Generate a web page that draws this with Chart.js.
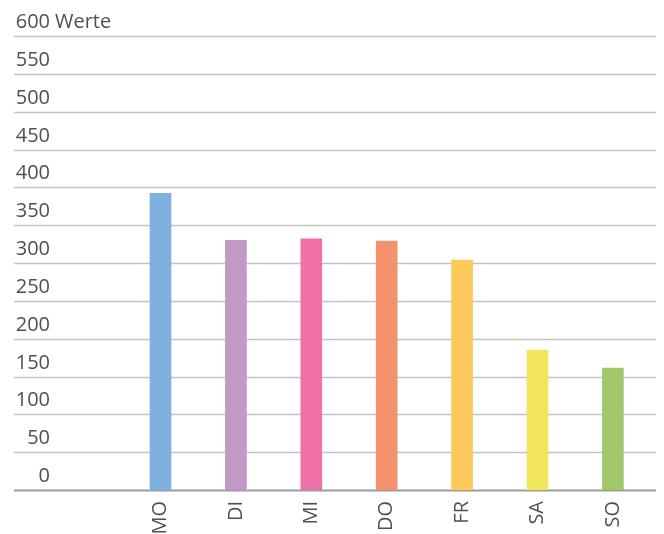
<!DOCTYPE html>
<html>
<head>
<meta charset="utf-8">
<script src="https://cdn.jsdelivr.net/npm/chart.js@4/dist/chart.umd.min.js"></script>
<style>
  html, body { margin: 0; padding: 0; background: #ffffff; }
  #wrap { width: 664px; height: 534px; position: relative; }
</style>
</head>
<body>
<div id="wrap"><canvas id="c" width="664" height="534"></canvas></div>
<script>
// ---- data ----
const categories = ['', 'MO', 'DI', 'MI', 'DO', 'FR', 'SA', 'SO'];
const values = [null, 392, 330, 332, 329, 304, 185, 161];
const barColors = ['#ffffff', '#7eb1e0', '#c09ac5', '#ef72a7', '#f4926e', '#fdc95a', '#f1e55e', '#a2c76a'];
const yTicks = [0, 50, 100, 150, 200, 250, 300, 350, 400, 450, 500, 550, 600];
const yUnit = 'Werte';

const FONT = '"Open Sans", "DejaVu Sans", sans-serif';
const TEXT = '#505050';
const FSIZE = 20;

const gridPlugin = {
  id: 'fullGrid',
  beforeDatasetsDraw(chart) {
    const ctx = chart.ctx;
    const y = chart.scales.y;
    ctx.save();
    yTicks.forEach(v => {
      const py = Math.round(y.getPixelForValue(v)) + 0.5;
      ctx.beginPath();
      ctx.moveTo(14, py);
      ctx.lineTo(656, py);
      ctx.lineWidth = v === 0 ? 2 : 1.5;
      ctx.strokeStyle = v === 0 ? '#9c9c9c' : '#c4c4c4';
      ctx.stroke();
    });
    ctx.restore();
  },
  afterDraw(chart) {
    const ctx = chart.ctx;
    const y = chart.scales.y;
    ctx.save();
    ctx.font = FSIZE + 'px ' + FONT;
    ctx.fillStyle = TEXT;
    ctx.textBaseline = 'alphabetic';
    yTicks.forEach(v => {
      const py = y.getPixelForValue(v) - 8;
      ctx.textAlign = 'right';
      ctx.fillText(String(v), 50, py);
      if (v === yTicks[yTicks.length - 1]) {
        ctx.textAlign = 'left';
        ctx.fillText(yUnit, 55, py);
      }
    });
    ctx.restore();
  }
};

new Chart(document.getElementById('c'), {
  type: 'bar',
  data: {
    labels: categories,
    datasets: [{
      data: values,
      backgroundColor: barColors,
      borderWidth: 0,
      barThickness: 21
    }]
  },
  options: {
    responsive: false,
    animation: false,
    devicePixelRatio: 1,
    layout: { padding: { top: 36, right: 13.4, left: 0, bottom: 0 } },
    plugins: { legend: { display: false }, tooltip: { enabled: false } },
    scales: {
      x: {
        grid: { display: false },
        border: { display: false },
        ticks: {
          color: TEXT,
          font: { family: FONT, size: FSIZE },
          minRotation: 90,
          maxRotation: 90,
          padding: 3,
          autoSkip: false
        },
        afterFit(scale) { scale.height = 44; }
      },
      y: {
        min: 0,
        max: 600,
        grid: { display: false },
        border: { display: false },
        ticks: { display: false, stepSize: 50 },
        afterFit(scale) { scale.width = 47.4; }
      }
    }
  },
  plugins: [gridPlugin]
});
</script>
</body>
</html>
